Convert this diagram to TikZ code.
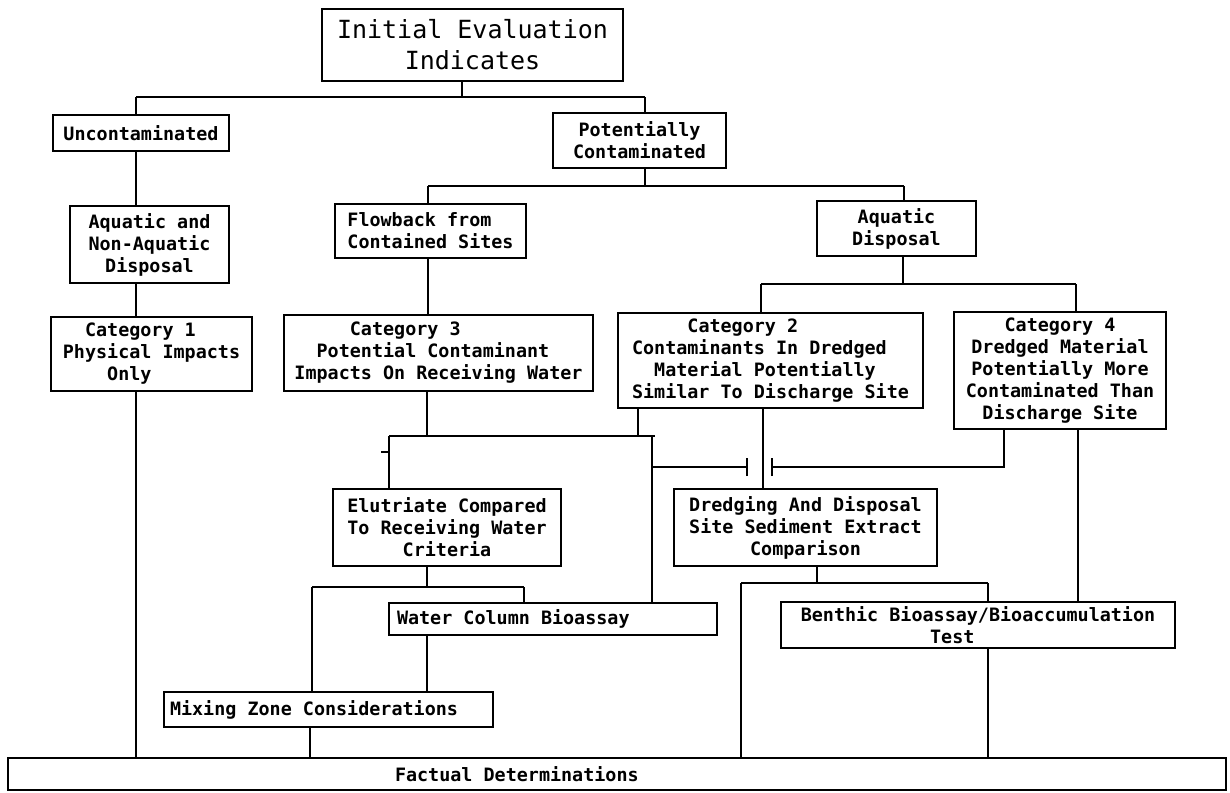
\documentclass[tikz,border=0pt]{standalone}
\usepackage{fontspec}
\newfontfamily\dvm{DejaVu Sans Mono}
\newcommand\bodyfnt{\dvm\bfseries\fontsize{18.4}{22}\selectfont}
\newcommand\titlefnt{\dvm\fontsize{25}{31}\selectfont}
\newcommand\tbox[7][]{\node[box,minimum width={#5pt-#3pt},minimum height={#6pt-#4pt},#1] (#2) at ({(#3+#5)/2},{(#4+#6)/2}) {#7};}
\tikzset{
  box/.style={draw, line width=2.2pt, inner sep=0pt, font=\bodyfnt, align=center},
  conn/.style={line width=1.3pt},
  bar/.style={line width=2.6pt},
}
\begin{document}
\begin{tikzpicture}[x=1pt,y=-1pt]
\fill[white] (0,0) rectangle (1230,792);
\useasboundingbox (0,0) rectangle (1230,792);
% boxes
\tbox[font=\titlefnt]{init}{322}{9}{623}{81}{Initial Evaluation\\Indicates}
\tbox{unc}{53}{115}{229}{151}{Uncontaminated}
\tbox{pot}{553}{113}{726}{168}{Potentially\\Contaminated}
\tbox[align=left]{flow}{335}{204}{526}{258}{Flowback from\\Contained Sites}
\tbox{aqd}{817}{201}{976}{256}{Aquatic\\Disposal}
\tbox{aqn}{70}{206}{229}{283}{Aquatic and\\Non-Aquatic\\Disposal}
\tbox[align=left]{cat1}{51}{317}{252}{391}{\phantom{xx}Category 1\\Physical Impacts\\\phantom{xxxx}Only}
\tbox[align=left]{cat3}{284}{315}{593}{391}{\phantom{xxxxx}Category 3\\\phantom{xx}Potential Contaminant\\Impacts On Receiving Water}
\tbox[align=left]{cat2}{618}{313}{923}{408}{\phantom{xxxxx}Category 2\\Contaminants In Dredged\\\phantom{xx}Material Potentially\\Similar To Discharge Site}
\tbox{cat4}{954}{312}{1166}{429}{Category 4\\Dredged Material\\Potentially More\\Contaminated Than\\Discharge Site}
\tbox{elu}{333}{489}{561}{566}{Elutriate Compared\\To Receiving Water\\Criteria}
\tbox{dred}{674}{489}{937}{566}{Dredging And Disposal\\Site Sediment Extract\\Comparison}
\tbox{wcb}{389}{603}{717}{635}{\makebox[312pt][l]{Water Column Bioassay}}
\tbox{ben}{781}{602}{1175}{648}{Benthic Bioassay/Bioaccumulation\\Test\hspace*{2.8em}}
\tbox{mix}{164}{692}{493}{727}{\makebox[317pt][l]{Mixing Zone Considerations}}
\tbox{fact}{8}{758}{1226}{790}{\makebox[1218pt][l]{\hspace*{387pt}Factual Determinations}}
% level 1
\coordinate (t0) at (462,97);
\coordinate (t1) at (136,97);
\coordinate (t2) at (645,97);
\draw[conn] (t0 |- init.south) -- (t0);
\draw[bar] (t1) -- (t2);
\draw[conn] (t1) -- (t1 |- unc.north);
\draw[conn] (t2) -- (t2 |- pot.north);
\draw[conn] (t1 |- unc.south) -- (t1 |- aqn.north);
\draw[conn] (t1 |- aqn.south) -- (t1 |- cat1.north);
\draw[conn] (t1 |- cat1.south) -- (t1 |- fact.north);
% level 2
\coordinate (p0) at (645,186);
\coordinate (p1) at (428,186);
\coordinate (p2) at (904,186);
\draw[conn] (p0 |- pot.south) -- (p0);
\draw[bar] (p1) -- (p2);
\draw[conn] (p1) -- (p1 |- flow.north);
\draw[conn] (p2) -- (p2 |- aqd.north);
\draw[conn] (p1 |- flow.south) -- (p1 |- cat3.north);
% aquatic disposal split
\coordinate (a0) at (903,284);
\coordinate (a1) at (761,284);
\coordinate (a2) at (1076,284);
\draw[conn] (a0 |- aqd.south) -- (a0);
\draw[bar] (a1) -- (a2);
\draw[conn] (a1) -- (a1 |- cat2.north);
\draw[conn] (a2) -- (a2 |- cat4.north);
% bar below cat3 / cat2
\coordinate (m1) at (389,436);
\coordinate (m2) at (655,436);
\coordinate (m3) at (427,436);
\coordinate (m4) at (638,436);
\coordinate (m5) at (652,436);
\draw[conn] (m3 |- cat3.south) -- (m3);
\draw[conn] (m4 |- cat2.south) -- (m4);
\draw[bar] (m1) -- (m2);
\draw[conn] (m1) -- (m1 |- elu.north);
\coordinate (k1) at (381,452);
\draw[conn] (k1) -- (k1 -| m1);
\draw[conn] (m5) -- (m5 |- wcb.north);
% branches with end ticks
\coordinate (n1) at (652,467);
\coordinate (n2) at (747,467);
\coordinate (n3) at (772,467);
\coordinate (n4) at (1004,467);
\draw[conn] (n1) -- (n2);
\draw[conn] ([yshift=-9pt]n2) -- ([yshift=9pt]n2);
\draw[conn] (n4 |- cat4.south) -- (n4) -- (n3);
\draw[conn] ([yshift=-9pt]n3) -- ([yshift=9pt]n3);
% cat2 -> dredging, cat4 -> benthic
\coordinate (d0) at (763,408);
\draw[conn] (d0 |- cat2.south) -- (d0 |- dred.north);
\coordinate (c4) at (1078,429);
\draw[conn] (c4 |- cat4.south) -- (c4 |- ben.north);
% elutriate split
\coordinate (e0) at (427,587);
\coordinate (e1) at (312,587);
\coordinate (e2) at (524,587);
\draw[conn] (e0 |- elu.south) -- (e0);
\draw[bar] (e1) -- (e2);
\draw[conn] (e1) -- (e1 |- mix.north);
\draw[conn] (e2) -- (e2 |- wcb.north);
\draw[conn] (e0 |- wcb.south) -- (e0 |- mix.north);
\coordinate (f0) at (310,740);
\draw[conn] (f0 |- mix.south) -- (f0 |- fact.north);
% dredging split
\coordinate (g0) at (817,583);
\coordinate (g1) at (741,583);
\coordinate (g2) at (988,583);
\draw[conn] (g0 |- dred.south) -- (g0);
\draw[bar] (g1) -- (g2);
\draw[conn] (g1) -- (g1 |- fact.north);
\draw[conn] (g2) -- (g2 |- ben.north);
\draw[conn] (g2 |- ben.south) -- (g2 |- fact.north);
\end{tikzpicture}
\end{document}
